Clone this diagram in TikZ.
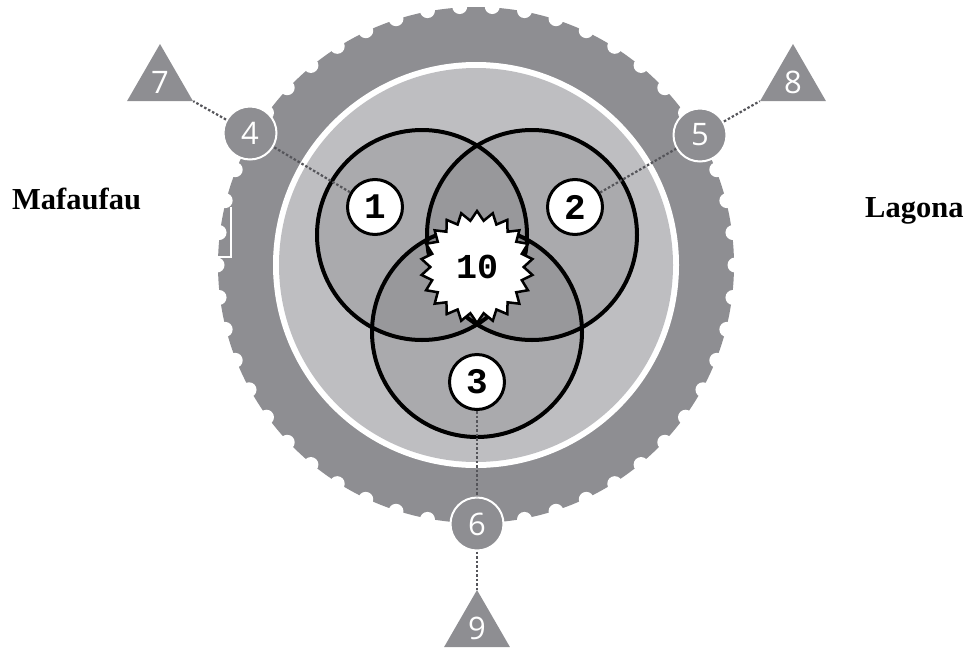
\documentclass[tikz,border=0pt]{standalone}
\usepackage{fontspec}
\setmainfont{Liberation Serif}
\newfontfamily\digitfont{Liberation Mono}
\newfontfamily\outfont{Open Sans}
\usetikzlibrary{shapes.geometric}
\definecolor{geargray}{HTML}{8E8E92}
\definecolor{discgray}{HTML}{BEBEC1}
\definecolor{dotgray}{HTML}{55555A}
\tikzset{
  innerball/.style={circle,draw=black,line width=3pt,fill=white,minimum size=55pt,inner sep=0pt,
    font=\digitfont\bfseries\fontsize{36}{36}\selectfont},
  outerball/.style={circle,draw=white,line width=2pt,fill=geargray,minimum size=53pt,inner sep=0pt,
    text=white,font=\outfont\fontsize{31}{31}\selectfont},
  tribox/.style={regular polygon,regular polygon sides=3,fill=geargray,minimum size=76pt,inner sep=0pt,
    text=white,font=\outfont\fontsize{31}{31}\selectfont},
  burst/.style={star,star points=22,star point ratio=1.2,draw=black,line width=2.5pt,fill=white,
    minimum size=112pt,inner sep=0pt,font=\digitfont\bfseries\fontsize{35}{35}\selectfont},
  vennfill/.style={fill=black,fill opacity=0.1},
  vennline/.style={draw=black,line width=4pt},
  dotline/.style={draw=dotgray,line width=2.2pt,dash pattern=on 2.5pt off 2pt},
  sidelabel/.style={font=\bfseries\fontsize{30.5}{31}\selectfont,inner sep=0pt}
}
\begin{document}
\begin{tikzpicture}[x=1pt,y=-1pt]
\useasboundingbox (0,0) rectangle (971,656);
% gear
\fill[geargray] (476,265) circle[radius=258pt];
\foreach \a in {0,7.2,...,359} \fill[white,shift={(476,265)}] (\a:259pt) circle[radius=7.5pt];
\fill[white] (476,265) circle[radius=203pt];
\fill[discgray] (476,265) circle[radius=197pt];
% venn
\fill[vennfill] (422,235) circle[radius=105pt];
\fill[vennfill] (532,235) circle[radius=105pt];
\fill[vennfill] (477,332) circle[radius=105pt];
\draw[vennline] (422,235) circle[radius=105pt];
\draw[vennline] (532,235) circle[radius=105pt];
\draw[vennline] (477,332) circle[radius=105pt];
% nodes
\node[innerball] (n1) at (375,207) {1};
\node[innerball] (n2) at (575,207) {2};
\node[innerball] (n3) at (477,382) {3};
\node[burst] (n10) at (477,267) {10};
\node[outerball] (c4) at (250,133) {4};
\node[outerball] (c5) at (700,135) {5};
\node[outerball] (c6) at (477,524) {6};
\node[tribox] (t7) at (160,82) {7};
\node[tribox] (t8) at (793,82) {8};
\node[tribox] (t9) at (477,628) {9};
% connectors
\draw[dotline] (n1) -- (c4);
\draw[dotline] (c4) -- (t7.corner 3);
\draw[dotline] (n2) -- (c5);
\draw[dotline] (c5) -- (t8.corner 2);
\draw[dotline] (n3) -- (c6);
\draw[dotline] (c6) -- (t9.corner 1);
% labels
\node[sidelabel,anchor=base west] (maf) at (12,209) {Mafaufau};
\node[sidelabel,anchor=base west] (lag) at (865,217) {Lagona};
\draw[white,line width=1.5pt] (217,257) -- (231,257) -- (231,207);
\end{tikzpicture}
\end{document}
